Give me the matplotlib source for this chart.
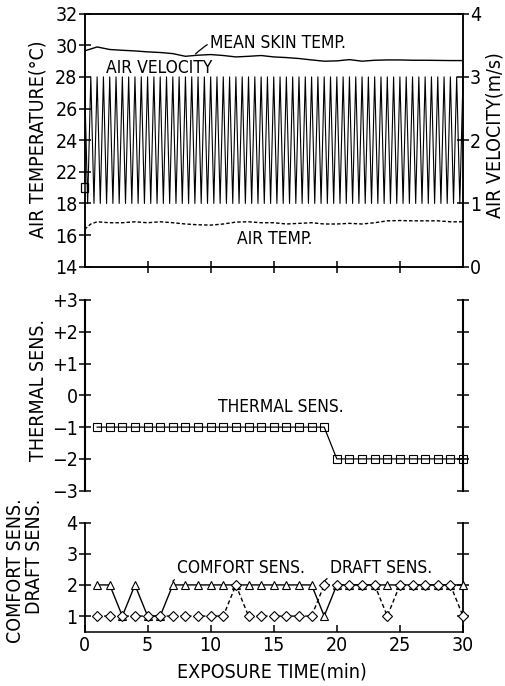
import numpy as np
import matplotlib
matplotlib.use("Agg")
import matplotlib.pyplot as plt
from matplotlib.patches import Rectangle

plt.rcParams['font.family'] = ['DejaVu Sans']
plt.rcParams['font.stretch'] = 'condensed'
plt.rcParams['axes.linewidth'] = 1.1

# ---- data ----
# top panel: temperatures (deg C) every minute
minutes = [0, 1, 2, 3, 4, 5, 6, 7, 8, 9, 10, 11, 12, 13, 14, 15,
           16, 17, 18, 19, 20, 21, 22, 23, 24, 25, 26, 27, 28, 29, 30]
skin_temp = [29.64, 29.89, 29.73, 29.68, 29.64, 29.58, 29.54, 29.47, 29.30, 29.37,
             29.41, 29.35, 29.26, 29.30, 29.35, 29.26, 29.22, 29.16, 29.07, 28.99,
             29.01, 29.09, 28.99, 29.05, 29.07, 29.07, 29.05, 29.05, 29.04, 29.03, 29.03]
air_time = [0, 0.5, 1, 2, 3, 4, 5, 6, 7, 8, 9, 10, 11, 12, 13, 14, 15,
            16, 17, 18, 19, 20, 21, 22, 23, 24, 25, 26, 27, 28, 29, 30]
air_temp = [16.36, 16.70, 16.84, 16.78, 16.78, 16.84, 16.78, 16.84, 16.78, 16.70,
            16.65, 16.63, 16.70, 16.82, 16.84, 16.78, 16.78, 16.70, 16.74, 16.78,
            16.70, 16.70, 16.74, 16.70, 16.78, 16.90, 16.92, 16.90, 16.90, 16.90,
            16.84, 16.84]
# air velocity swings 3 -> 1 -> 3 m/s, 60 cycles in 30 min
vel_time = np.linspace(0, 30, 121)
air_vel = [3.0, 1.0] * 60 + [3.0]

# middle panel
sens_time = list(range(1, 31))
thermal = [-1, -1, -1, -1, -1, -1, -1, -1, -1, -1, -1, -1, -1, -1, -1, -1, -1, -1, -1,
           -2, -2, -2, -2, -2, -2, -2, -2, -2, -2, -2]

# bottom panel
comfort = [2, 2, 1, 2, 1, 1, 2, 2, 2, 2, 2, 2, 2, 2, 2, 2, 2, 2, 1, 2,
           2, 2, 2, 2, 2, 2, 2, 2, 2, 2]
draft = [1, 1, 1, 1, 1, 1, 1, 1, 1, 1, 1, 2, 1, 1, 1, 1, 1, 1, 2, 2,
         2, 2, 2, 1, 2, 2, 2, 2, 2, 1]

temp_ticks = [14, 16, 18, 22, 24, 26, 28, 30, 32]
vel_ticks = [0, 1, 2, 3, 4]
thermal_ticks = [-3, -2, -1, 0, 1, 2, 3]
thermal_labels = ['\u22123', '\u22122', '\u22121', '0', '+1', '+2', '+3']
sens_ticks = [1, 2, 3, 4]
time_ticks = [0, 5, 10, 15, 20, 25, 30]


# broken temperature axis: 18 -> 22 squeezed into one tick interval
def t2p(t):
    t = np.asarray(t, float)
    return np.where(t < 18, (t - 14) / 2, np.where(t > 22, 3 + (t - 22) / 2, 2 + (t - 18) / 4))


def p2t(p):
    p = np.asarray(p, float)
    return np.where(p < 2, 14 + 2 * p, np.where(p > 3, 22 + 2 * (p - 3), 18 + 4 * (p - 2)))


FS = 14
TS = 12.5
fig = plt.figure(figsize=(5.06, 6.86), dpi=100)

# ---------------- top panel ----------------
ax1 = fig.add_axes([0.167, 0.6112, 0.748, 0.369])
ax1.set_yscale('function', functions=(t2p, p2t))
ax1.set_xlim(0, 30)
ax1.set_ylim(14, 32)
ax1.set_yticks(temp_ticks)
ax1.set_yticklabels([str(v) for v in temp_ticks])
ax1.set_xticks([5, 10, 15, 20, 25])
ax1.set_xticklabels([])
ax1.tick_params(axis='both', direction='inout', length=8, width=1.1, labelsize=FS, pad=1)
ax1.tick_params(axis='y', right=False)
ax1.yaxis.set_minor_locator(plt.NullLocator())

ax1.plot(minutes, skin_temp, color='black', lw=1.0)
ax1.plot(air_time, air_temp, color='black', lw=1.0, ls=(0, (2.5, 1.5)))

ax1.annotate('MEAN SKIN TEMP.', xy=(8.8, 29.45), xytext=(9.95, 30.15),
             fontsize=TS, ha='left', va='center',
             arrowprops=dict(arrowstyle='-', lw=0.9, color='black',
                             connectionstyle='arc3,rad=0.35', shrinkA=0, shrinkB=0))
ax1.text(1.7, 28.55, 'AIR VELOCITY', fontsize=TS, ha='left', va='center')
ax1.text(12.1, 15.76, 'AIR TEMP.', fontsize=TS, ha='left', va='center')

# break mark on the left axis
ax1.add_patch(Rectangle((-0.008, 19.4), 0.016, 1.2, transform=ax1.get_yaxis_transform(),
                        facecolor='white', edgecolor='black', lw=0.9, clip_on=False, zorder=5))

ax1b = ax1.twinx()
ax1b.set_ylim(0, 4)
ax1b.set_yticks(vel_ticks)
ax1b.tick_params(axis='y', direction='inout', length=8, width=1.1, labelsize=FS, pad=1)
ax1b.plot(vel_time, air_vel, color='black', lw=0.8)

# ---------------- middle panel ----------------
ax2 = fig.add_axes([0.167, 0.2847, 0.748, 0.278])
ax2.set_xlim(0, 30)
ax2.set_ylim(-3, 3)
for s in ('top', 'bottom'):
    ax2.spines[s].set_visible(False)
ax2.spines['left'].set_linewidth(1.5)
ax2.spines['right'].set_linewidth(1.5)
ax2.set_xticks([])
ax2.set_yticks(thermal_ticks)
ax2.set_yticklabels(thermal_labels)
ax2.tick_params(axis='y', left=True, right=True, direction='inout', length=8,
                width=1.1, labelsize=FS, pad=1)
ax2.plot(sens_time, thermal, color='black', lw=0.9, marker='s', ms=5.5,
         mfc='none', mec='black', mew=0.8, clip_on=False)
ax2.text(10.6, -0.38, 'THERMAL SENS.', fontsize=TS, ha='left', va='center')

# ---------------- bottom panel ----------------
ax3 = fig.add_axes([0.167, 0.0792, 0.748, 0.159])
ax3.set_xlim(0, 30)
ax3.set_ylim(0.5, 4)
ax3.spines['top'].set_visible(False)
ax3.spines['left'].set_linewidth(1.3)
ax3.spines['right'].set_linewidth(1.3)
ax3.set_yticks(sens_ticks)
ax3.set_xticks(time_ticks)
ax3.tick_params(axis='y', left=True, right=True, direction='inout', length=8,
                width=1.1, labelsize=FS, pad=1)
ax3.tick_params(axis='x', direction='in', length=5, width=1.1, labelsize=FS, pad=3)
ax3.plot(sens_time, comfort, color='black', lw=1.0, marker='^', ms=6,
         mfc='white', mec='black', mew=0.8, clip_on=False, zorder=3)
ax3.plot(sens_time, draft, color='black', lw=1.0, ls=(0, (3, 2)), marker='D', ms=5,
         mfc='white', mec='black', mew=0.8, clip_on=False, zorder=4)
ax3.annotate('COMFORT SENS.', xy=(7.0, 2.12), xytext=(7.35, 2.53),
             fontsize=TS, ha='left', va='center',
             arrowprops=dict(arrowstyle='-', lw=0.9, color='black',
                             connectionstyle='arc3,rad=0.3', shrinkA=0, shrinkB=0))
ax3.annotate('DRAFT SENS.', xy=(19.0, 2.12), xytext=(19.45, 2.53),
             fontsize=TS, ha='left', va='center',
             arrowprops=dict(arrowstyle='-', lw=0.9, color='black',
                             connectionstyle='arc3,rad=0.3', shrinkA=0, shrinkB=0))

# ---------------- axis titles ----------------
H = 686.0
W = 506.0
fig.text(38.5 / W, 1 - 139 / H, 'AIR TEMPERATURE(\u00b0C)', rotation=90,
         ha='center', va='center', fontsize=FS)
fig.text(495 / W, 1 - 135 / H, 'AIR VELOCITY(m/s)', rotation=90,
         ha='center', va='center', fontsize=FS)
fig.text(38.5 / W, 1 - 390 / H, 'THERMAL SENS.', rotation=90,
         ha='center', va='center', fontsize=FS)
fig.text(25 / W, 1 - 571 / H, 'COMFORT SENS.\nDRAFT SENS.', rotation=90,
         ha='center', va='center', fontsize=FS, multialignment='right', linespacing=0.95)
fig.text(272 / W, 1 - 672 / H, 'EXPOSURE TIME(min)', ha='center', va='center', fontsize=FS)

fig.savefig('out.png', dpi=100)
